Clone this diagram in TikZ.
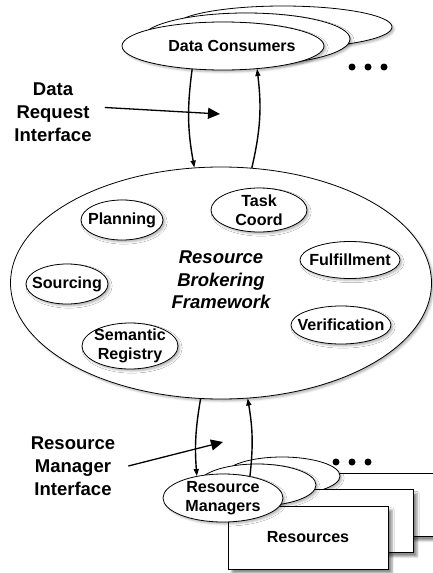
\documentclass[tikz,border=0pt]{standalone}
\usepackage{fontspec}
\setmainfont{Liberation Sans}
\usetikzlibrary{shapes.geometric,arrows.meta,shadows.blur}

\tikzset{
  bubble/.style={ellipse, draw=black, line width=0.8pt, fill=white, inner sep=0pt,
    blur shadow={shadow xshift=2pt, shadow yshift=-2pt, shadow blur steps=4, shadow opacity=30}},
  card/.style={rectangle, draw=black, line width=0.8pt, fill=white, inner sep=0pt,
    minimum width=160pt, minimum height=63pt,
    blur shadow={shadow xshift=4pt, shadow yshift=-4pt, shadow blur steps=4, shadow opacity=45}},
  lbl/.style={font=\bfseries\fontsize{16.1}{19}\selectfont, align=center, inner sep=0pt},
  biglbl/.style={font=\bfseries\fontsize{18.5}{23}\selectfont, align=center, inner sep=0pt},
  flow/.style={line width=1.4pt, -{Triangle[length=7pt,width=5pt]}},
  pointer/.style={line width=1.3pt, -{Triangle[length=12pt,width=11pt]}},
  dot/.style={circle, fill=black, inner sep=0pt, minimum size=7pt},
}

\begin{document}
\begin{tikzpicture}[x=1pt, y=1pt]
\useasboundingbox (0,0) rectangle (432,-573);

% stacked data consumer ellipses, back to front
\node[bubble, minimum width=218pt, minimum height=42pt] (dc3) at (283,-27) {};
\node[bubble, minimum width=208pt, minimum height=52pt] (dc2) at (246,-39) {};
\node[bubble, minimum width=202pt, minimum height=48pt,
      label={[lbl, font=\bfseries\fontsize{16}{19}\selectfont, xshift=9pt]center:Data Consumers}] (dc1) at (223,-46) {};
\node[dot] (dcdot1) at (352,-67) {};
\node[dot] (dcdot2) at (368,-67) {};
\node[dot] (dcdot3) at (384,-67) {};

% brokering framework and its components
\node[bubble, minimum width=421pt, minimum height=232pt,
      label={[biglbl, font=\bfseries\itshape\fontsize{18.5}{22.5}\selectfont, yshift=3pt]center:Resource\\Brokering\\Framework}] (rbf) at (221,-283) {};
\node[bubble, minimum width=82pt, minimum height=40pt, label={[lbl]center:Planning}] (plan) at (122,-220) {};
\node[bubble, minimum width=96pt, minimum height=44pt, label={[lbl]center:Task\\Coord}] (task) at (259,-210) {};
\node[bubble, minimum width=100pt, minimum height=37pt, label={[lbl]center:Fulfillment}] (fulf) at (350,-260) {};
\node[bubble, minimum width=82pt, minimum height=40pt, label={[lbl]center:Sourcing}] (src) at (67,-284) {};
\node[bubble, minimum width=100pt, minimum height=38pt, label={[lbl]center:Verification}] (verif) at (341,-325) {};
\node[bubble, minimum width=96pt, minimum height=46pt, label={[lbl]center:Semantic\\Registry}] (sem) at (130,-346) {};

% resource managers and their resources, back to front
\node[card] (res3) at (357,-505) {};
\node[bubble, minimum width=116pt, minimum height=38pt] (rm3) at (282,-476) {};
\node[card] (res2) at (333,-521) {};
\node[bubble, minimum width=118pt, minimum height=42pt] (rm2) at (257,-485) {};
\node[card, label={[lbl]center:Resources}] (res1) at (308,-537.5) {};
\node[bubble, minimum width=120pt, minimum height=48pt, label={[lbl]center:Resource\\Managers}] (rm1) at (223,-498) {};
\node[dot] (rmdot1) at (336,-462) {};
\node[dot] (rmdot2) at (352,-462) {};
\node[dot] (rmdot3) at (368,-462) {};

% interface labels
\node[biglbl, inner xsep=13pt] (dri) at (53,-112) {Data\\Request\\Interface};
\node[biglbl, inner xsep=13pt] (rmi) at (73,-466) {Resource\\Manager\\Interface};
\coordinate (dritip) at (220,-114);
\coordinate (rmitip) at (223,-442);

% request and response flows
\draw[flow] (dc1.-143.7) to[bend right=9] (rbf.103.7);
\draw[flow] (rbf.75.8) to[bend right=10] (dc1.-34.5);
\draw[flow] (rbf.-100.3) to[bend right=7] (rm1.140.3);
\draw[flow] (rm1.39.7) to[bend right=8] (rbf.-77.3);

\draw[pointer] (dri.5) -- (dritip);
\draw[pointer] (rmi.east) -- (rmitip);
\end{tikzpicture}
\end{document}
